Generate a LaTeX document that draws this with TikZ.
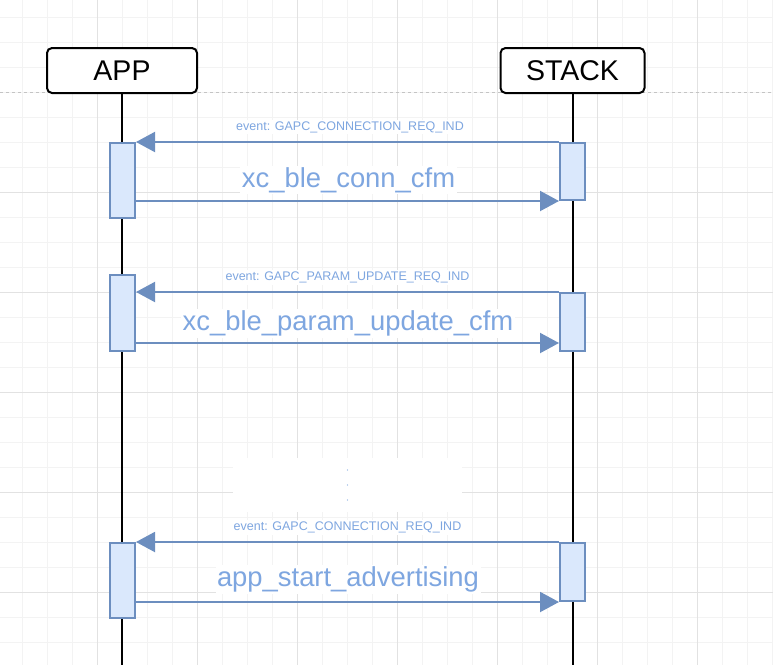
\documentclass[tikz,border=0pt]{standalone}
\usepackage{fontspec}
\setmainfont{Liberation Sans}
\usetikzlibrary{arrows.meta}
\definecolor{actstroke}{HTML}{6C8EBF}
\definecolor{actfill}{HTML}{DAE8FC}
\definecolor{labtext}{HTML}{7EA6E0}
\definecolor{gridminor}{HTML}{F3F3F3}
\definecolor{gridmajor}{HTML}{E2E2E2}
\definecolor{dashgray}{HTML}{C4C4C4}
\tikzset{
  lifebox/.style={draw=black, line width=2pt, rounded corners=5pt, fill=white,
    minimum height=45pt, inner sep=0pt, font=\fontsize{28.5}{34}\selectfont},
  actbox/.style={draw=actstroke, fill=actfill, line width=2pt, minimum width=25pt,
    inner sep=0pt},
  lifeline/.style={draw=black, line width=2pt},
  msg/.style={draw=actstroke, line width=2pt,
    -{Triangle[length=19pt,width=20pt,fill=actstroke]}},
  evlabel/.style={text=labtext, font=\fontsize{12.5}{15}\selectfont, fill=white,
    inner sep=1.5pt, anchor=base},
  calllabel/.style={text=labtext, font=\fontsize{27.4}{32}\selectfont, fill=white,
    inner sep=1.5pt, anchor=base},
}
\begin{document}
\begin{tikzpicture}[x=1pt,y=1pt]
\useasboundingbox (0,0) rectangle (773,-665);
\fill[white] (0,0) rectangle (773,-665);
% grid
\foreach \x in {22,47,...,772} \draw[gridminor, line width=1pt] (\x,0) -- (\x,-665);
\foreach \y in {17,42,...,667} \draw[gridminor, line width=1pt] (0,-\y) -- (773,-\y);
\foreach \x in {97,197,...,697} \draw[gridmajor, line width=1pt] (\x,0) -- (\x,-665);
\foreach \y in {192,292,392,492,592} \draw[gridmajor, line width=1pt] (0,-\y) -- (773,-\y);
\draw[dashgray, line width=1pt, dash pattern=on 3pt off 3pt] (0,-92) -- (773,-92);
% white patch with dots
\fill[white] (233,-458) rectangle (462,-512);
\fill[labtext] (347.5,-470) circle (0.7pt);
\fill[labtext] (347.5,-485) circle (0.7pt);
\fill[labtext] (347.5,-500) circle (0.7pt);
% participants
\coordinate (appEnd) at (122,-665);
\coordinate (stackEnd) at (572.5,-665);
\draw[lifeline] (122,-93) -- (appEnd);
\draw[lifeline] (572.5,-93) -- (stackEnd);
\node[lifebox, minimum width=150pt] (app) at (122,-70.5) {APP};
\node[lifebox, minimum width=144pt] (stack) at (572.5,-70.5) {STACK};
% activations
\node[actbox, minimum height=75pt] (appA1) at (122.5,-180.5) {};
\node[actbox, minimum height=57pt] (stackA1) at (572.5,-171.5) {};
\node[actbox, minimum height=76pt] (appA2) at (122.5,-313) {};
\node[actbox, minimum height=58pt] (stackA2) at (572.5,-322) {};
\node[actbox, minimum height=75pt] (appA3) at (122.5,-580.5) {};
\node[actbox, minimum height=58pt] (stackA3) at (572.5,-572) {};
% messages group 1
\draw[msg] (stackA1.north west) -- (appA1.east |- stackA1.north);
\draw[msg] (appA1.east |- stackA1.south) -- (stackA1.south west);
\node[evlabel] (ev1) at (350,-130.5) {event: GAPC\_CONNECTION\_REQ\_IND};
\node[calllabel] (call1) at (348.5,-187) {xc\_ble\_conn\_cfm};
% group 2
\draw[msg] (stackA2.north west) -- (appA2.east |- stackA2.north);
\draw[msg] (appA2.east |- 0,-343) -- (stackA2.west |- 0,-343);
\node[evlabel] (ev2) at (347.5,-280.7) {event: GAPC\_PARAM\_UPDATE\_REQ\_IND};
\node[calllabel] (call2) at (348,-330.7) {xc\_ble\_param\_update\_cfm};
% group 3
\draw[msg] (stackA3.north west) -- (appA3.east |- stackA3.north);
\draw[msg] (appA3.east |- stackA3.south) -- (stackA3.south west);
\node[evlabel] (ev3) at (347.5,-530.7) {event: GAPC\_CONNECTION\_REQ\_IND};
\node[calllabel] (call3) at (348,-586.7) {app\_start\_advertising};
\end{tikzpicture}
\end{document}
